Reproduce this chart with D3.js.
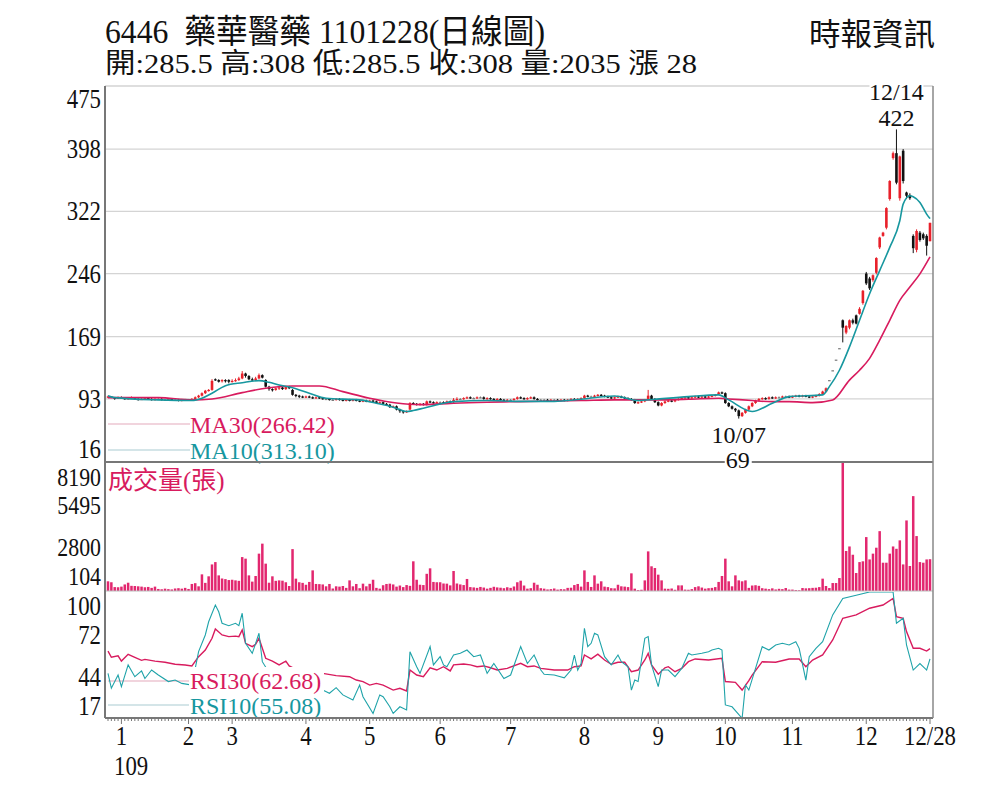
<!DOCTYPE html>
<html>
<head>
<meta charset="utf-8">
<script src="https://cdn.jsdelivr.net/npm/d3@7"></script>
<style>
  body { margin: 0; background: #fff; }
  svg { display: block; }
  text { font-family: "Liberation Serif", "Noto Sans CJK TC", serif; fill: #111; white-space: pre; }
</style>
</head>
<body>
<svg id="chart" width="1000" height="800"></svg>
<script>
// daily candles, 109/12/27 .. 109/12/28 (one entry per trading day)
const opens = [95,96,95,93,
  95,94,93,94,95,93,92,93,94,93,92,93,93,92,92,93,92,92,91,92,
  92,92,93,95,97,100,103,104,117,116,115,116,116,
  114,115,116,118,124,121,117,116,118,122,116,108,105,104,106,107,105,108,104,98,97,96,
  95,96,95,94,95,94,93,93,92,92,93,92,91,92,91,92,91,90,91,
  90,91,90,88,89,87,86,83,84,80,78,77,80,88,87,86,87,86,90,89,88,
  89,89,88,90,89,92,93,93,94,95,94,94,95,95,93,94,93,92,93,92,91,
  92,92,93,95,94,93,94,95,93,92,92,92,91,92,92,91,92,91,92,93,92,93,
  94,97,96,96,97,98,97,96,95,94,95,96,95,94,93,92,88,89,90,93,97,93,
  89,85,88,90,91,90,92,93,94,95,94,95,96,95,96,95,96,97,99,101,
  100,88,84,81,79,72,76,80,84,88,91,93,94,93,95,94,95,95,96,96,
  95,96,97,96,97,96,95,96,97,99,102,116,128,141,155,189,174,180,189,195,197,210,
  246,240,238,247,278,292,302,337,387,393,338,396,345,342,292,275,296,294,292,285.5];
const highs = [97,96,95,96,
  96,95,95,96,95,94,94,95,94,94,94,94,94,93,94,93,93,93,93,93,
  93,94,96,98,101,104,105,117,118,117,117,117,117,
  117,118,120,127,125,122,119,120,124,123,117,109,106,107,109,108,109,109,105,99,98,97,
  97,97,96,96,96,95,94,94,93,94,94,93,93,93,93,93,92,92,92,
  92,92,91,90,90,88,87,85,85,81,79,79,89,89,88,88,88,91,91,90,90,
  90,90,91,91,94,95,94,95,96,96,95,96,96,96,95,95,94,94,94,93,93,
  93,94,96,96,95,95,96,96,94,93,93,93,93,93,93,93,93,93,94,94,94,95,
  98,98,97,98,99,99,98,97,96,96,97,97,96,95,94,93,90,91,93,104,98,94,
  90,89,91,92,92,93,94,95,96,96,96,97,97,97,97,97,98,99,102,102,
  101,89,85,82,80,77,81,85,89,92,94,95,95,96,96,96,96,97,97,97,
  97,98,98,98,98,97,97,98,100,103,107,116,128,141,155,190,183,190,191,196,205,226,
  248,242,245,266,291,297,327,360,395,422,390,398,346,344,294,300,298,296,294,308];
const lows = [94,94,92,93,
  93,92,92,93,92,91,92,92,92,91,91,92,91,91,91,91,91,90,90,91,
  91,91,92,94,96,99,102,103,115,113,113,113,112,
  113,114,115,117,119,116,115,115,117,118,107,103,102,103,104,104,104,105,97,95,94,94,
  94,94,93,93,93,92,92,91,91,91,91,90,90,90,90,90,89,89,89,
  89,89,87,87,86,85,82,82,79,76,75,76,79,86,85,85,85,85,88,87,87,
  88,87,87,88,88,91,92,92,93,93,93,93,94,92,92,92,91,91,91,90,90,
  91,91,92,93,92,92,93,92,91,91,91,90,90,91,90,90,90,90,91,91,91,92,
  93,95,95,95,96,96,95,94,93,93,94,94,93,92,91,87,87,88,89,92,92,88,
  84,84,87,89,89,89,91,92,93,93,93,94,94,94,94,94,95,96,98,99,
  87,83,80,77,69,71,75,79,83,87,90,92,92,92,93,93,94,94,95,94,
  94,95,95,95,95,94,94,95,96,98,101,116,128,141,155,162,172,178,184,184,196,208,
  232,226,236,245,276,291,300,335,385,355,335,356,337,336,271,272,285,287,268,285.5];
const closes = [96,95,93,95,
  94,93,94,95,93,92,93,94,93,92,93,93,92,92,93,92,92,91,92,92,
  92,93,95,97,100,103,104,115,116,114,116,115,114,
  115,116,118,124,121,117,116,118,122,119,108,105,104,106,107,105,108,106,98,97,96,95,
  96,95,94,95,94,93,93,92,92,93,92,91,92,91,92,91,90,91,90,
  91,90,88,89,87,86,83,84,80,78,77,78,88,87,86,87,86,90,89,88,89,
  89,88,90,89,92,93,93,94,95,94,94,95,95,93,94,93,92,93,92,91,92,
  92,93,95,94,93,94,95,93,92,92,92,91,92,92,91,92,91,92,93,92,93,94,
  97,96,96,97,98,97,96,95,94,95,96,95,94,93,92,88,89,90,92,97,93,89,
  85,88,90,91,90,92,93,94,95,94,95,96,95,96,95,96,97,98,101,100,
  88,84,81,79,72,76,80,84,88,91,93,94,93,95,94,95,95,96,96,95,
  96,97,96,97,96,95,96,97,99,102,106,116,128,141,155,180,182,189,186,185,203,225,
  234,228,244,265,290,296,326,359,393,357,389,359,341,338,277,298,287,289,280,308];
const volumes = [620,560,250,240,280,420,530,330,320,300,280,240,260,200,280,130,110,150,120,100,160,180,150,200,130,
  450,500,300,1065,520,940,1700,1850,1000,800,760,700,720,680,650,
  2170,2070,1000,600,960,2390,3030,1750,530,940,650,680,660,560,320,2680,790,560,520,400,
  580,1320,450,440,420,300,450,160,300,280,320,200,680,300,450,180,470,300,460,720,200,
  150,370,450,470,420,280,350,250,380,330,1900,720,400,380,1100,1450,580,560,560,
  480,470,360,1280,480,420,380,770,250,230,200,260,220,150,200,270,230,210,180,240,
  200,290,560,660,350,150,180,530,400,180,150,100,120,160,90,120,110,200,210,380,450,280,
  1320,580,260,1000,470,620,280,250,180,170,400,300,280,250,1130,150,60,80,680,2535,1580,1470,
  1045,680,150,140,160,80,360,360,90,80,120,250,300,220,150,180,200,250,580,960,
  2070,620,300,1000,680,620,680,200,350,370,330,180,150,120,170,100,140,120,190,90,
  90,60,50,190,170,180,200,210,250,790,320,190,510,510,830,8190,2560,2850,2320,1150,1850,1900,
  3450,2020,2390,2770,3830,1810,1810,2390,2850,2700,3240,1700,4515,1600,6070,3515,1850,1810,2020,2035];

// moving averages: [day, value]
const ma30Pts = [[0,94.6],[15,94.6],[25,91.8],[31,93],[40,100.7],[47,106],[55,108.8],[63,108.8],[70,101.9],
  [78,93.8],[86,88],[93,86],[99,86.9],[103,87.7],[113,89],[123,89.7],[133,90.5],[141,91],[151,91.8],
  [163,91.8],[173,92.6],[182,93.8],[185,93],[192,91],[198,89.7],[203,89.7],[210,88.5],[216,91.8],
  [221,116],[224,128],[227,142.5],[230,164.7],[233,189],[236,213.3],[239,229.5],[242,245.7],[245,266.4]];
const ma10Pts = [[0,97],[2,94.6],[15,91.8],[25,91],[28,93.8],[31,99.9],[35,109.2],[40,112.8],[45,115.3],
  [48,113.3],[51,110],[55,106.7],[60,99.9],[65,93.8],[75,91.8],[80,87.7],[85,82.9],[89,77.6],[91,78.8],
  [94,81.7],[99,86.9],[103,89.7],[113,91],[123,90],[133,90],[141,92.6],[151,96.6],[158,91],[163,92.6],
  [173,95.8],[182,97.9],[185,91.8],[192,77.6],[198,87.7],[203,95.8],[213,97.9],[215,108],[218,128],
  [221,156.5],[224,189],[227,221.4],[230,249.7],[233,278],[236,310.5],[237,330.8],[239,341],[240,339.7],
  [242,332.8],[244,318.6],[245,313.1]];

// RSI: [day, value]
const rsi30Pts = [[0,61],[1,57],[3,58],[4,54.5],[6,59],[8,57],[10,55],[11,55.6],[14,54.5],[17,53.7],[20,52.4],
  [23,51.9],[25,51.3],[27,57.4],[29,61.8],[31,69.5],[32,75.6],[34,71.7],[36,70.6],[38,70.9],[39,70.6],[40,75],
  [41,66.2],[43,64],[44,65.5],[45,69.5],[47,56.3],[49,54.5],[51,52],[53,54.5],[54,51.3],[56,49],[60,48],
  [64,46.4],[68,44.9],[72,44.2],[74,42],[76,41],[78,38.7],[80,39.8],[82,38.7],[85,35.4],[87,36.6],[89,34.8],
  [90,48.6],[92,45.3],[94,44.2],[96,50.1],[98,48.6],[100,50.8],[102,48],[103,52],[106,52.6],[108,52],
  [110,50.8],[112,51.3],[114,50.1],[116,48.6],[119,49.7],[123,53],[125,50.8],[127,51.3],[129,49.7],
  [133,48.6],[137,48.6],[139,50.8],[141,51.3],[142,58.5],[144,55.9],[146,59],[148,55.2],[150,52.4],
  [152,53.7],[154,53.7],[156,47.5],[158,48.6],[160,55.2],[161,59.6],[162,52],[164,45.8],[166,50.1],
  [167,50.8],[169,47.5],[171,49.7],[173,54.1],[175,55.9],[179,55.2],[183,56.3],[184,41],[187,40.5],
  [189,35.4],[191,41.6],[192,45.3],[195,54.1],[199,53.7],[203,55.9],[206,55.9],[208,50.8],[210,55.2],
  [213,58.5],[216,68.4],[219,82.7],[223,84.9],[227,89.3],[231,91.4],[234,95.8],[235,83.7],[237,82.7],
  [238,73.9],[240,62.9],[242,62.9],[244,61.1],[245,62.7]];
const rsi10Pts = [[0,46.4],[1,36.6],[3,45.3],[4,37.7],[6,52],[8,44.2],[10,48],[11,43],[13,48.6],[15,45.3],
  [18,41],[20,42],[22,39.8],[25,38.7],[27,60.7],[29,71.7],[30,80.4],[32,91.4],[33,87],[34,79.4],[36,77.8],
  [38,79.4],[39,77.8],[40,86],[41,66.2],[43,59.6],[44,66.2],[45,72.8],[46,54.1],[48,47],[52,44],[56,40],
  [60,38],[64,35.4],[66,33.3],[68,37],[70,32.2],[73,28.9],[75,38.7],[76,31],[79,20],[81,32.2],[82,31],
  [84,24.4],[85,20],[87,24.4],[89,22.3],[90,60.7],[92,50.8],[93,46.4],[96,64],[97,52],[99,57.4],[100,52],
  [101,50.8],[103,58.5],[105,59.6],[107,61.8],[109,57.4],[111,58.5],[113,46.4],[115,52.9],[118,43],
  [120,45.3],[123,64],[125,52.9],[127,58.5],[129,48.6],[130,45.8],[133,45.3],[136,43.5],[138,48.6],
  [139,58.5],[140,48.6],[141,52.9],[142,76.1],[143,64],[144,66.2],[145,72.8],[146,71.7],[148,57.4],
  [150,52],[152,58.5],[153,54.1],[155,50.8],[156,35.4],[157,42],[158,41],[160,69.5],[161,70.6],[162,52],
  [164,37.7],[165,48.6],[167,48.6],[169,44.2],[171,49.7],[173,59.6],[174,58.5],[177,59.6],[179,60.7],
  [180,61.8],[182,62.9],[183,61.8],[184,25.6],[186,24.4],[189,16.8],[190,38.7],[191,35.4],[193,49.7],
  [195,64],[197,61.8],[199,65.1],[201,66.2],[203,65.1],[205,67.3],[206,62.9],[208,42],[209,57.4],
  [211,62.9],[213,67.3],[216,84.9],[219,95.8],[223,97.9],[227,100],[231,100],[234,100],[235,79.4],
  [237,82.7],[238,65.1],[240,48.6],[242,52.9],[244,48.6],[245,55.9]];

const monthTicks = [4, 24, 37, 59, 78, 99, 120, 142, 164, 184, 204, 226, 245];
const monthLabels = ["1", "2", "3", "4", "5", "6", "7", "8", "9", "10", "11", "12", "12/28"];
const priceTicks = [475, 398, 322, 246, 169, 93, 16];
const volTicks = [8190, 5495, 2800, 104];
const rsiTicks = [100, 72, 44, 17];

const RED = "#e8202a", MA30C = "#d81b5e", MA10C = "#17979f", VOLC = "#e2276f";
const L = 105, R = 933;
const P = { top: 86, bot: 462 }, V = { top: 463, bot: 591 }, S = { top: 592, bot: 718 };

const svg = d3.select("#chart");
const x = d3.scaleLinear().domain([0, closes.length - 1]).range([108, 930]);
const yP = d3.scaleLinear().domain([16, 475]).range([P.bot, P.top]);
const yV = d3.scaleLinear().domain([0, 8190]).range([V.bot, V.top]);
const yR = d3.scaleLinear().domain([17, 100]).range([S.bot, S.top]);

const defs = svg.append("defs");
[["clipP", P], ["clipV", V], ["clipS", S]].forEach(([id, p]) => {
  defs.append("clipPath").attr("id", id).append("rect")
    .attr("x", L).attr("y", p.top).attr("width", R - L).attr("height", p.bot - p.top);
});

// tall, slightly narrow numerals like the printed chart
function tallText(px, py, txt, anchor, size) {
  return svg.append("text")
    .attr("transform", `translate(${px},${py}) scale(0.95,1.1)`)
    .attr("text-anchor", anchor || "start").style("font-size", (size || 24) + "px")
    .text(txt);
}

// header
svg.append("text").attr("x", 105).attr("y", 43)
  .attr("transform", "translate(0,-3.4) scale(1,1.08)")
  .style("font-size", "31px")
  .attr("textLength", 440).attr("lengthAdjust", "spacingAndGlyphs")
  .text("6446  藥華醫藥 1101228(日線圖)");
svg.append("text").attr("x", 105).attr("y", 73).style("font-size", "28px")
  .attr("textLength", 592).attr("lengthAdjust", "spacingAndGlyphs")
  .text("開:285.5 高:308 低:285.5 收:308 量:2035 漲 28");
svg.append("text").attr("x", 809).attr("y", 45).style("font-size", "31px")
  .attr("textLength", 126).attr("lengthAdjust", "spacingAndGlyphs")
  .text("時報資訊");

// grid
svg.append("g").selectAll("line").data(priceTicks.slice(0, -1)).join("line")
  .attr("x1", L).attr("x2", R).attr("y1", d => yP(d)).attr("y2", d => yP(d))
  .attr("stroke", "#d4d4d4").attr("stroke-width", 1.2);

// axis labels
function axisLabels(ticks, scale, lo, hi, size) {
  ticks.forEach(d => tallText(101, Math.max(lo, Math.min(hi, scale(d))) + 9, d, "end", size));
}
axisLabels(priceTicks, yP, 99, 449);
axisLabels(volTicks, yV, 477, 576, 23);
axisLabels(rsiTicks, yR, 606, 706);

// candles
const days = d3.range(closes.length);
const candleColor = i => closes[i] > opens[i] ? RED : closes[i] < opens[i] ? "#111" : "#777";
const gP = svg.append("g").attr("clip-path", "url(#clipP)");
gP.append("g").selectAll("line").data(days).join("line")
  .attr("x1", i => x(i)).attr("x2", i => x(i))
  .attr("y1", i => yP(highs[i])).attr("y2", i => yP(lows[i]))
  .attr("stroke", candleColor).attr("stroke-width", 1);
gP.append("g").selectAll("rect").data(days).join("rect")
  .attr("x", i => x(i) - 1.3).attr("width", 2.6)
  .attr("y", i => yP(Math.max(opens[i], closes[i])))
  .attr("height", i => Math.max(1.2, Math.abs(yP(opens[i]) - yP(closes[i]))))
  .attr("fill", candleColor);

const maLine = d3.line().x(d => x(d[0])).y(d => yP(d[1])).curve(d3.curveMonotoneX);
gP.append("path").attr("d", maLine(ma30Pts)).attr("fill", "none").attr("stroke", MA30C).attr("stroke-width", 1.6);
gP.append("path").attr("d", maLine(ma10Pts)).attr("fill", "none").attr("stroke", MA10C).attr("stroke-width", 1.6);

// price legend
svg.append("line").attr("x1", 108).attr("x2", 190).attr("y1", 424).attr("y2", 424).attr("stroke", "#ecc6d2").attr("stroke-width", 1.5);
svg.append("line").attr("x1", 108).attr("x2", 190).attr("y1", 450).attr("y2", 450).attr("stroke", "#c6dde0").attr("stroke-width", 1.5);
svg.append("text").attr("x", 190).attr("y", 433).style("font-size", "24px").style("fill", MA30C).text("MA30(266.42)");
svg.append("text").attr("x", 190).attr("y", 459).style("font-size", "24px").style("fill", MA10C).text("MA10(313.10)");

// volume
const gV = svg.append("g").attr("clip-path", "url(#clipV)");
gV.selectAll("rect").data(days).join("rect")
  .attr("x", i => x(i) - 1.25).attr("width", 2.5)
  .attr("y", i => yV(volumes[i])).attr("height", i => V.bot - yV(volumes[i]))
  .attr("fill", VOLC);
svg.append("text").attr("x", 108).attr("y", 489).style("font-size", "25px").style("fill", MA30C).text("成交量(張)");

// RSI
const gS = svg.append("g").attr("clip-path", "url(#clipS)");
gS.append("line").attr("x1", 108).attr("x2", 190).attr("y1", 681).attr("y2", 681).attr("stroke", "#ecc6d2").attr("stroke-width", 1.5);
gS.append("line").attr("x1", 108).attr("x2", 190).attr("y1", 705).attr("y2", 705).attr("stroke", "#c6dde0").attr("stroke-width", 1.5);
const rsiLine = d3.line().x(d => x(d[0])).y(d => yR(d[1]));
gS.append("path").attr("d", rsiLine(rsi30Pts)).attr("fill", "none").attr("stroke", MA30C).attr("stroke-width", 1.4);
gS.append("path").attr("d", rsiLine(rsi10Pts)).attr("fill", "none").attr("stroke", "#1fa3a9").attr("stroke-width", 1.1);
svg.append("rect").attr("x", 189).attr("y", 667).attr("width", 135).attr("height", 50).attr("fill", "#fff");
svg.append("text").attr("x", 190).attr("y", 689).style("font-size", "24px").style("fill", MA30C).text("RSI30(62.68)");
svg.append("text").attr("x", 190).attr("y", 714).style("font-size", "24px").style("fill", MA10C).text("RSI10(55.08)");

// frame
svg.append("line").attr("x1", L).attr("x2", R).attr("y1", P.top).attr("y2", P.top).attr("stroke", "#d4d4d4").attr("stroke-width", 1.2);
svg.append("line").attr("x1", L).attr("x2", R).attr("y1", P.bot).attr("y2", P.bot).attr("stroke", "#777").attr("stroke-width", 2);
svg.append("line").attr("x1", L).attr("x2", R).attr("y1", V.bot).attr("y2", V.bot).attr("stroke", "#bbb").attr("stroke-width", 1);
svg.append("line").attr("x1", L).attr("x2", R).attr("y1", S.bot).attr("y2", S.bot).attr("stroke", "#777").attr("stroke-width", 2);
svg.append("line").attr("x1", L).attr("x2", L).attr("y1", P.top).attr("y2", S.bot).attr("stroke", "#777").attr("stroke-width", 2);
svg.append("line").attr("x1", R).attr("x2", R).attr("y1", P.top).attr("y2", S.bot).attr("stroke", "#888").attr("stroke-width", 1.5);

// x axis ticks and labels
svg.append("g").selectAll("line").data(days).join("line")
  .attr("x1", i => x(i)).attr("x2", i => x(i))
  .attr("y1", S.bot).attr("y2", i => S.bot + (monthTicks.includes(i) ? 6 : 3))
  .attr("stroke", "#777").attr("stroke-width", 1);
monthTicks.forEach((d, k) => tallText(x(d), 745, monthLabels[k], "middle"));
tallText(114, 775, "109");

// high / low annotations
const hiDay = 235, loDay = 188;
svg.append("rect").attr("x", x(hiDay) - 27).attr("y", 82).attr("width", 54).attr("height", 20).attr("fill", "#fff");
svg.append("text").attr("x", x(hiDay)).attr("y", 100).attr("text-anchor", "middle").style("font-size", "24px").text("12/14");
svg.append("text").attr("x", x(hiDay)).attr("y", 126).attr("text-anchor", "middle").style("font-size", "24px").text(highs[hiDay]);
svg.append("text").attr("x", x(loDay)).attr("y", 443).attr("text-anchor", "middle").style("font-size", "24px").text("10/07");
svg.append("rect").attr("x", x(loDay) - 14).attr("y", 451).attr("width", 27).attr("height", 19).attr("fill", "#fff");
svg.append("text").attr("x", x(loDay) - 1).attr("y", 468).attr("text-anchor", "middle").style("font-size", "24px").text(lows[loDay]);
</script>
</body>
</html>
